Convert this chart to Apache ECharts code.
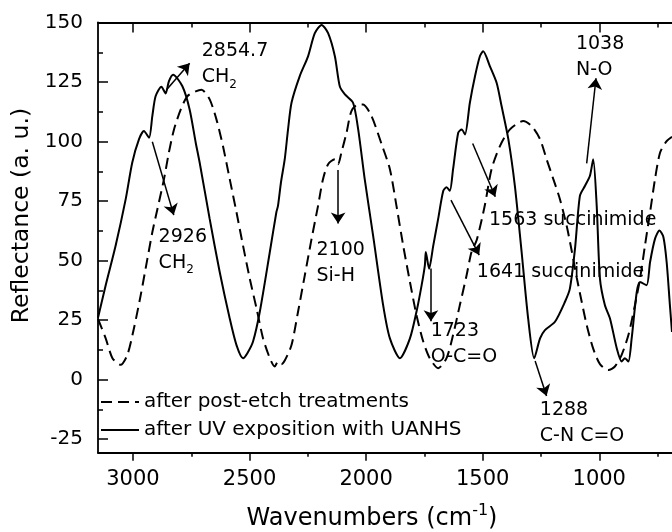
<!DOCTYPE html>
<html><head><meta charset="utf-8">
<script src="https://cdn.jsdelivr.net/npm/echarts@6/dist/echarts.min.js"></script>
<style>html,body{margin:0;padding:0;background:#fff}#c{width:672px;height:532px}</style>
</head><body><div id="c"></div>
<script>
// ---- data (wavenumber cm-1, reflectance a.u.) ----
const seriesNames = ['after post-etch treatments', 'after UV exposition with UANHS'];

const postEtch = [[3150,25.5],[3117,17.3],[3088,9],[3053,6.2],[3024,10.4],[2996,21.5],[2967,35.4],[2938,50.8],[2917,61.9],[2895,71.7],[2867,84.2],[2846,95.4],[2824,105.1],[2795,113.5],[2767,119],[2731,121.1],[2706,121.8],[2671,117.7],[2642,109.3],[2614,98.1],[2585,84.2],[2556,70.3],[2528,56.3],[2499,42.4],[2470,29.9],[2442,17.3],[2413,9],[2392,5.5],[2378,7.6],[2363,6.5],[2349,8],[2320,14.5],[2292,28.5],[2263,43.8],[2234,59.1],[2206,73.1],[2185,84.2],[2163,90.5],[2134,92.6],[2120,90.5],[2106,95.4],[2084,103.7],[2063,112.8],[2034,115.6],[2013,115.6],[1977,110.7],[1934,99],[1898,88.4],[1870,73.1],[1841,56.3],[1812,41],[1784,27.1],[1755,16],[1727,9],[1691,4.8],[1655,9],[1627,18.7],[1598,31.3],[1569,43.8],[1548,53.6],[1526,58.5],[1491,73.1],[1462,88.4],[1426,98.1],[1383,105.1],[1326,108.6],[1290,106.5],[1254,101],[1226,92.6],[1197,84.2],[1169,75.9],[1140,64.7],[1118,54],[1097,43],[1076,33],[1054,23],[1026,13],[997,6.5],[961,4],[933,5.5],[904,10.4],[875,18.7],[847,31.3],[825,42.4],[804,56.3],[782,70.3],[761,84.2],[739,95.4],[711,100.2],[688,102]];

const uvUanhs = [[3150,26],[3117,39.6],[3074,56.4],[3031,75.9],[3003,91.2],[2974,101],[2953,104.4],[2931,101.6],[2917,110.7],[2903,119],[2878,123],[2860,120.2],[2846,125.3],[2828,128.1],[2788,123.2],[2757,113.5],[2731,99.6],[2714,91.2],[2671,67.5],[2628,45.2],[2585,25.7],[2556,14.5],[2528,9],[2510,11],[2485,16],[2456,28.5],[2413,53.6],[2385,70.3],[2378,73],[2365,83],[2349,92.6],[2335,105],[2320,116.3],[2285,127.4],[2249,135.8],[2220,145.5],[2191,149],[2163,145.5],[2134,135.8],[2113,123.2],[2091,119.8],[2056,116.3],[2034,105.1],[2006,84.2],[1970,60.5],[1927,31.3],[1898,17.3],[1855,9],[1812,17.3],[1784,28.5],[1762,39.6],[1748,48],[1744,53.6],[1730,46.6],[1712,56.3],[1691,67.5],[1669,79.3],[1655,80.8],[1641,79.3],[1627,88.4],[1605,103.7],[1590,105.1],[1576,103],[1555,116.3],[1533,127.4],[1512,135.8],[1498,137.9],[1469,131.6],[1440,124.6],[1419,114.9],[1390,101],[1362,81.4],[1333,53.6],[1305,25.7],[1279,9],[1254,17.3],[1233,20.8],[1190,24.3],[1147,32.7],[1126,38.2],[1104,55],[1083,77.2],[1061,81.4],[1040,85.6],[1026,92.6],[1011,73.1],[997,42.4],[976,31.3],[954,25.7],[925,13.2],[904,7.6],[890,9],[875,7.6],[861,17.3],[839,36.9],[825,41],[797,39.6],[782,49.4],[761,59.1],[742,62.6],[725,59.9],[711,49.4],[697,31.3],[688,20]];

const xMajorTicks = [1000, 1500, 2000, 2500, 3000];
const xMinorTicks = [750, 1250, 1750, 2250, 2750];
const yMajorTicks = [-25, 0, 25, 50, 75, 100, 125, 150];
const yMinorTicks = [-12.5, 12.5, 37.5, 62.5, 87.5, 112.5, 137.5];

// annotations (data coordinates)
const annoText = ['2854.7\n{n|CH}{s|2}', '2926\n{n|CH}{s|2}', '2100\nSi-H', '1723\nO-C=O', '1563 succinimide', '1641 succinimide', '1038\nN-O', '1288\nC-N C=O'];
const annoAt = [[2705,132.4],[2890,54.6],[2213,48.8],[1723,14.8],[1473,67],[1525,45.2],[1100,135.6],[1255,-18.2]];
const arrowFrom = [[2857,121.6],[2917,99.9],[2120,88],[1722,46.7],[1543,99.2],[1636,75.4],[1054,90.8],[1275,7.8]];
const arrowTo = [[2757,132.9],[2825,69.1],[2120,65.6],[1722,24.5],[1446,76.8],[1515,52.3],[1014,126.6],[1226,-6.9]];

// ---- chart ----
const FONT = 'DejaVu Sans';
const X_MIN = 688, X_MAX = 3150, Y_MIN = -30.7, Y_MAX = 150;
const chart = echarts.init(document.getElementById('c'), null, {renderer: 'canvas'});

function xAx(pos, ticks, len, inside, showLine, showLabel, extra) {
  return Object.assign({
    type: 'value', position: pos, inverse: true, min: X_MIN, max: X_MAX,
    axisLine: {show: showLine, onZero: false, lineStyle: {color: '#000', width: 1.8}},
    axisTick: {show: true, inside: inside, length: len, customValues: ticks, lineStyle: {color: '#000', width: 1.5}},
    axisLabel: showLabel ? {show: true, customValues: ticks, margin: 16, color: '#000', fontSize: 21, fontFamily: FONT, formatter: v => String(v)} : {show: false},
    splitLine: {show: false}, minorTick: {show: false}
  }, extra || {});
}
function yAx(ticks, len, showLine, showLabel, extra) {
  return Object.assign({
    type: 'value', position: 'left', min: Y_MIN, max: Y_MAX,
    axisLine: {show: showLine, onZero: false, lineStyle: {color: '#000', width: 1.8}},
    axisTick: {show: true, inside: true, length: len, customValues: ticks, lineStyle: {color: '#000', width: 1.5}},
    axisLabel: showLabel ? {show: true, customValues: ticks, margin: 15, color: '#000', fontSize: 20, fontFamily: FONT, formatter: v => String(v)} : {show: false},
    splitLine: {show: false}, minorTick: {show: false}
  }, extra || {});
}

const option = {
  animation: false,
  backgroundColor: '#fff',
  grid: {left: 98, right: 0, top: 22.5, bottom: 79.3, containLabel: false, outerBoundsMode: 'none'},
  legend: {
    data: seriesNames, orient: 'vertical', left: 100, top: 392, padding: 0,
    itemWidth: 38, itemHeight: 14, itemGap: 8, itemStyle: {opacity: 0},
    textStyle: {color: '#000', fontSize: 20, fontFamily: FONT, lineHeight: 20},
    selectedMode: false
  },
  xAxis: [
    xAx('bottom', xMajorTicks, 8, false, true, true, {
      name: 'Wavenumbers (cm{sup|-1})', nameLocation: 'middle', nameGap: 50,
      nameTextStyle: {color: '#000', fontSize: 24, fontFamily: FONT, lineHeight: 32, padding: [0, 26, 0, 0],
        rich: {sup: {fontSize: 16, fontFamily: FONT, color: '#000', verticalAlign: 'top', lineHeight: 16}}}
    }),
    xAx('bottom', xMinorTicks, 4, false, false, false),
    xAx('top', xMajorTicks, 10, true, true, false),
    xAx('top', xMinorTicks, 5, true, false, false)
  ],
  yAxis: [
    yAx(yMajorTicks, 10, true, true, {
      name: 'Reflectance (a. u.)', nameLocation: 'middle', nameGap: 61, nameRotate: 90,
      nameTextStyle: {color: '#000', fontSize: 23.5, fontFamily: FONT, padding: [0, 0, 0, 44]}
    }),
    yAx(yMinorTicks, 5, false, false)
  ],
  series: [
    {
      name: seriesNames[0], type: 'line', data: postEtch, xAxisIndex: 0, yAxisIndex: 0,
      symbol: 'none', showSymbol: false, smooth: 0.25, clip: true,
      lineStyle: {color: '#000', width: 2, type: [11, 6]}, itemStyle: {color: '#000'}
    },
    {
      name: seriesNames[1], type: 'line', data: uvUanhs, xAxisIndex: 0, yAxisIndex: 0,
      symbol: 'none', showSymbol: false, smooth: 0.25, clip: true,
      lineStyle: {color: '#000', width: 2, type: 'solid'}, itemStyle: {color: '#000'}
    },
    {
      name: 'annotations', type: 'scatter', xAxisIndex: 0, yAxisIndex: 0, silent: true, z: 5,
      symbolSize: 0, data: annoAt, itemStyle: {opacity: 1, color: '#000'},
      label: {
        show: true, position: 'right', distance: 0, opacity: 1,
        formatter: p => annoText[p.dataIndex],
        color: '#000', fontSize: 19, fontFamily: FONT, lineHeight: 26, align: 'left',
        rich: {
          n: {fontSize: 19, fontFamily: FONT, color: '#000', lineHeight: 26},
          s: {fontSize: 12, fontFamily: FONT, color: '#000', lineHeight: 12, verticalAlign: 'bottom'}
        }
      },
      markLine: {
        silent: true, animation: false, symbol: ['none', 'arrow'], symbolSize: 11,
        label: {show: false},
        lineStyle: {color: '#000', width: 1.5, type: 'solid', opacity: 1},
        emphasis: {disabled: true},
        data: arrowFrom.map((f, i) => [{coord: f}, {coord: arrowTo[i]}])
      }
    }
  ]
};
chart.setOption(option);
</script>
</body></html>
